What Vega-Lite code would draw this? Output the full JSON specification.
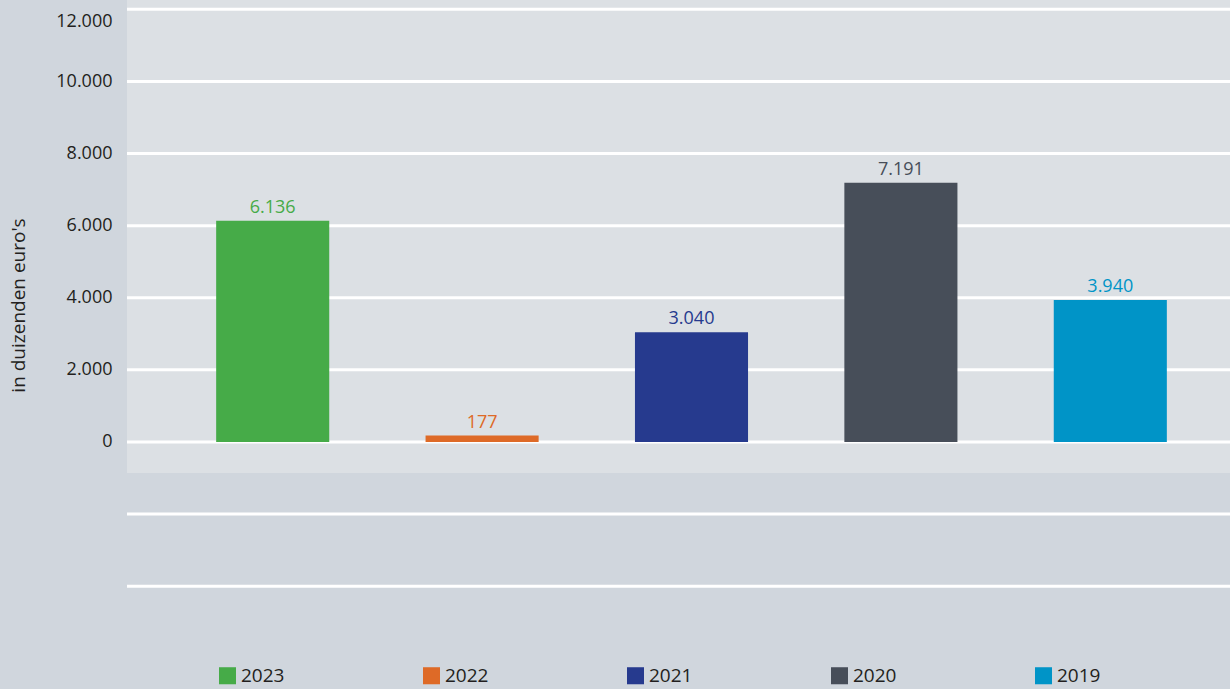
{
  "$schema": "https://vega.github.io/schema/vega-lite/v6.json",
  "width": 1103,
  "height": 589,
  "autosize": {"type": "none"},
  "padding": {"left": 127, "top": 0, "right": 0, "bottom": 100},
  "background": "#d0d6dd",
  "config": {
    "view": {"fill": "#d0d6dd", "stroke": null},
    "font": "Open Sans"
  },
  "datasets": {
    "bars": [
      {"year": "2023", "value": 6136, "label": "6.136"},
      {"year": "2022", "value": 177, "label": "177"},
      {"year": "2021", "value": 3040, "label": "3.040"},
      {"year": "2020", "value": 7191, "label": "7.191"},
      {"year": "2019", "value": 3940, "label": "3.940"}
    ],
    "grid": [
      {"g": -4000}, {"g": -2000}, {"g": 0}, {"g": 2000}, {"g": 4000},
      {"g": 6000}, {"g": 8000}, {"g": 10000}, {"g": 12000}
    ]
  },
  "layer": [
    {
      "data": {"values": [{}]},
      "mark": {"type": "rect", "color": "#dce0e4"},
      "encoding": {
        "x": {"value": 0},
        "x2": {"value": "width"},
        "y": {"datum": -860, "type": "quantitative", "scale": {"domain": [-4077, 12257], "nice": false, "zero": false}},
        "y2": {"value": 0}
      }
    },
    {
      "data": {"name": "grid"},
      "mark": {"type": "rule", "color": "#ffffff", "strokeWidth": 3},
      "encoding": {
        "y": {"field": "g", "type": "quantitative"}
      }
    },
    {
      "data": {"name": "bars"},
      "layer": [
        {
          "mark": {"type": "bar"},
          "encoding": {
            "x": {"field": "year", "type": "nominal", "sort": ["2023","2022","2021","2020","2019"],
                  "scale": {"range": [41, 1088], "paddingInner": 0.46, "paddingOuter": 0.23}, "axis": null},
            "y": {"field": "value", "type": "quantitative",
                  "axis": {
                    "values": [0, 2000, 4000, 6000, 8000, 10000, 12000],
                    "grid": false, "domain": false, "ticks": false,
                    "labelExpr": "replace(format(datum.value, ','), ',', '.')",
                    "labelFontSize": 18, "labelColor": "#231f20", "labelPadding": 15,
                    "labelFont": "Open Sans",
                    "labelOffset": {"condition": {"test": "datum.value == 12000", "value": 12}, "value": 0},
                    "title": "in duizenden euro's", "titleFontSize": 19, "titleFontWeight": "normal",
                    "titleColor": "#231f20", "titleFont": "Open Sans",
                    "titleX": -109, "titleY": 305, "titleAngle": -90,
                    "titleAlign": "center", "titleBaseline": "middle"
                  }},
            "color": {"field": "year", "type": "nominal",
                      "scale": {"domain": ["2023","2022","2021","2020","2019"],
                                "range": ["#46ab48", "#de6a27", "#263a8e", "#474e59", "#0094c7"]},
                      "legend": {
                        "title": null, "orient": "none", "legendX": 91, "legendY": 666,
                        "direction": "horizontal", "columns": 5, "columnPadding": 137,
                        "symbolType": "square", "symbolSize": 290, "symbolStrokeWidth": 0,
                        "labelFontSize": 19, "labelColor": "#231f20", "labelFont": "Open Sans",
                        "labelOffset": 4
                      }}
          }
        },
        {
          "mark": {"type": "text", "fontSize": 18, "baseline": "bottom", "dy": -4, "font": "Open Sans"},
          "encoding": {
            "x": {"field": "year", "type": "nominal", "sort": ["2023","2022","2021","2020","2019"]},
            "y": {"field": "value", "type": "quantitative"},
            "text": {"field": "label"},
            "color": {"field": "year", "type": "nominal", "legend": null}
          }
        }
      ]
    }
  ]
}
